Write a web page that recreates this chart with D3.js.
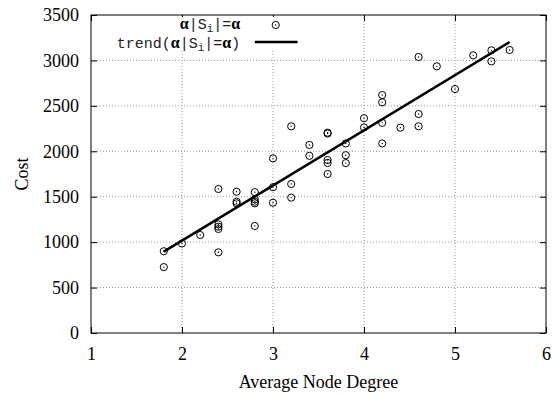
<!DOCTYPE html>
<html>
<head>
<meta charset="utf-8">
<script src="https://cdn.jsdelivr.net/npm/d3@7"></script>
<style>
  body { margin: 0; background: #fff; }
  svg text { font-family: "Liberation Serif", "Times New Roman", serif; }
</style>
</head>
<body>
<div id="chart-area"></div>
<script>
// data
var degree = [1.8, 1.8, 2.0, 2.2, 2.4, 2.4, 2.4, 2.4, 2.4, 2.6, 2.6, 2.6,
    2.8, 2.8, 2.8, 2.8, 2.8, 3.0, 3.0, 3.0, 3.2, 3.2, 3.2, 3.4, 3.4,
    3.6, 3.6, 3.6, 3.6, 3.6, 3.8, 3.8, 3.8, 4.0, 4.0, 4.2, 4.2, 4.2, 4.2,
    4.4, 4.6, 4.6, 4.6, 4.8, 5.0, 5.2, 5.4, 5.4, 5.6];
var cost = [900, 725, 985, 1078, 1585, 1196, 1170, 1145, 888, 1555, 1445, 1427,
    1550, 1471, 1445, 1427, 1178, 1922, 1605, 1434, 2275, 1640, 1490, 2070, 1950,
    2205, 2195, 1904, 1872, 1750, 2086, 1957, 1870, 2364, 2262, 2619, 2539, 2313, 2086,
    2260, 3038, 2410, 2275, 2935, 2685, 3056, 3111, 2990, 3115];
var trendX = [1.8, 5.6];
var trendY = [895, 3203];
var xTicks = [1, 2, 3, 4, 5, 6];
var yTicks = [0, 500, 1000, 1500, 2000, 2500, 3000, 3500];

var margin = {top: 15, right: 7, bottom: 63, left: 91};
var width = 553 - margin.left - margin.right,
    height = 396 - margin.top - margin.bottom;

var svg = d3.select("#chart-area").append("svg")
    .attr("width", 553)
    .attr("height", 396)
    .append("g")
    .attr("transform", "translate(" + margin.left + "," + margin.top + ")");

var x = d3.scaleLinear().domain([1, 6]).range([0, width]);
var y = d3.scaleLinear().domain([0, 3500]).range([height, 0]);

// grid
svg.append("g").selectAll("line")
    .data(xTicks.slice(1, -1)).enter().append("line")
    .attr("x1", function(d) { return x(d); })
    .attr("x2", function(d) { return x(d); })
    .attr("y1", 0).attr("y2", height)
    .style("stroke", "#999").style("stroke-dasharray", "1,2");
svg.append("g").selectAll("line")
    .data(yTicks.slice(1, -1)).enter().append("line")
    .attr("y1", function(d) { return y(d); })
    .attr("y2", function(d) { return y(d); })
    .attr("x1", 0).attr("x2", width)
    .style("stroke", "#999").style("stroke-dasharray", "1,2");

// axes, ticks inward on all sides
var tl = 6;
function styleAxis(g) {
    g.select(".domain").remove();
    g.selectAll(".tick line").style("stroke", "#000");
    g.selectAll(".tick text").style("font-size", "18px")
        .style("font-family", "'Liberation Serif', serif").attr("fill", "#000");
}
svg.append("g").attr("transform", "translate(0," + height + ")")
    .call(d3.axisBottom(x).tickValues(xTicks).tickSize(-tl).tickPadding(14).tickFormat(d3.format("d")))
    .call(styleAxis);
svg.append("g")
    .call(d3.axisTop(x).tickValues(xTicks).tickSize(-tl).tickFormat(""))
    .call(styleAxis);
svg.append("g")
    .call(d3.axisLeft(y).tickValues(yTicks).tickSize(-tl).tickPadding(12).tickFormat(d3.format("d")))
    .call(styleAxis);
svg.append("g").attr("transform", "translate(" + width + ",0)")
    .call(d3.axisRight(y).tickValues(yTicks).tickSize(-tl).tickFormat(""))
    .call(styleAxis);

svg.append("rect")
    .attr("width", width).attr("height", height)
    .style("fill", "none").style("stroke", "#000").style("stroke-width", 1);

// legend (opaque)
var legend = svg.append("g");
legend.append("rect")
    .attr("x", x(1.1)).attr("y", 2)
    .attr("width", x(3.35) - x(1.1)).attr("height", 34)
    .style("fill", "#fff");

function legendText(sel, prefix, suffix) {
    var t = sel.append("text")
        .attr("text-anchor", "end")
        .style("font-family", "'Liberation Mono', monospace")
        .style("font-size", "15px")
        .attr("fill", "#222");
    t.append("tspan").text(prefix);
    t.append("tspan").text("α").style("font-weight", "bold").style("font-size", "16px")
        .style("font-family", "'Liberation Serif', serif").attr("fill", "#000");
    t.append("tspan").text("|S");
    t.append("tspan").text("i").attr("dy", 3).style("font-size", "11px");
    t.append("tspan").text("|=").attr("dy", -3);
    t.append("tspan").text("α").style("font-weight", "bold").style("font-size", "16px")
        .style("font-family", "'Liberation Serif', serif").attr("fill", "#000");
    t.append("tspan").text(suffix);
    return t;
}
legendText(legend, "", "").attr("x", x(2.64)).attr("y", 14);
legendText(legend, "trend(", ")").attr("x", x(2.64)).attr("y", 33);

var lp = legend.append("g").attr("transform", "translate(" + x(3.03) + "," + 10 + ")");
lp.append("circle").attr("r", 3.6).style("fill", "none").style("stroke", "#000");
lp.append("circle").attr("r", 0.7).style("fill", "#000");
legend.append("line")
    .attr("x1", x(2.8)).attr("x2", x(3.27))
    .attr("y1", 27).attr("y2", 27)
    .style("stroke", "#000").style("stroke-width", 2.5);

// trend line
svg.append("line")
    .attr("x1", x(trendX[0])).attr("y1", y(trendY[0]))
    .attr("x2", x(trendX[1])).attr("y2", y(trendY[1]))
    .style("stroke", "#000").style("stroke-width", 2.5);

// points
var pts = svg.append("g").selectAll("g")
    .data(degree).enter().append("g")
    .attr("transform", function(d, i) { return "translate(" + x(d) + "," + y(cost[i]) + ")"; });
pts.append("circle").attr("r", 3.6).style("fill", "none").style("stroke", "#000");
pts.append("circle").attr("r", 0.7).style("fill", "#000");

// axis labels
svg.append("text")
    .attr("x", width / 2).attr("y", height + 55)
    .attr("text-anchor", "middle")
    .style("font-size", "18px")
    .text("Average Node Degree");
svg.append("text")
    .attr("transform", "translate(" + (-margin.left + 28) + "," + (height / 2) + ") rotate(-90)")
    .attr("text-anchor", "middle")
    .style("font-size", "18px")
    .text("Cost");
</script>
</body>
</html>
